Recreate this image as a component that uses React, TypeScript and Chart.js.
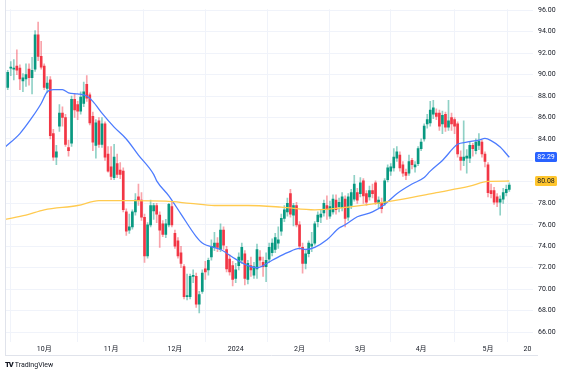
import React, { useEffect, useRef } from "react";
import { Chart, registerables } from "chart.js";

Chart.register(...registerables);

// Trading days (daily bars), plus a few future session dates the time axis runs into
const dates = [
  "2023-09-13","2023-09-14","2023-09-15","2023-09-18","2023-09-19","2023-09-20","2023-09-21","2023-09-22","2023-09-25","2023-09-26","2023-09-27","2023-09-28","2023-09-29",
  "2023-10-02","2023-10-03","2023-10-04","2023-10-05","2023-10-06","2023-10-09","2023-10-10","2023-10-11","2023-10-12","2023-10-13","2023-10-16","2023-10-17","2023-10-18","2023-10-19","2023-10-20","2023-10-23","2023-10-24","2023-10-25","2023-10-26","2023-10-27","2023-10-30","2023-10-31",
  "2023-11-01","2023-11-02","2023-11-03","2023-11-06","2023-11-07","2023-11-08","2023-11-09","2023-11-10","2023-11-13","2023-11-14","2023-11-15","2023-11-16","2023-11-17","2023-11-20","2023-11-21","2023-11-22","2023-11-24","2023-11-27","2023-11-28","2023-11-29","2023-11-30",
  "2023-12-01","2023-12-04","2023-12-05","2023-12-06","2023-12-07","2023-12-08","2023-12-11","2023-12-12","2023-12-13","2023-12-14","2023-12-15","2023-12-18","2023-12-19","2023-12-20","2023-12-21","2023-12-22","2023-12-26","2023-12-27","2023-12-28","2023-12-29",
  "2024-01-02","2024-01-03","2024-01-04","2024-01-05","2024-01-08","2024-01-09","2024-01-10","2024-01-11","2024-01-12","2024-01-16","2024-01-17","2024-01-18","2024-01-19","2024-01-22","2024-01-23","2024-01-24","2024-01-25","2024-01-26","2024-01-29","2024-01-30","2024-01-31",
  "2024-02-01","2024-02-02","2024-02-05","2024-02-06","2024-02-07","2024-02-08","2024-02-09","2024-02-12","2024-02-13","2024-02-14","2024-02-15","2024-02-16","2024-02-20","2024-02-21","2024-02-22","2024-02-23","2024-02-26","2024-02-27","2024-02-28","2024-02-29",
  "2024-03-01","2024-03-04","2024-03-05","2024-03-06","2024-03-07","2024-03-08","2024-03-11","2024-03-12","2024-03-13","2024-03-14","2024-03-15","2024-03-18","2024-03-19","2024-03-20","2024-03-21","2024-03-22","2024-03-25","2024-03-26","2024-03-27","2024-03-28",
  "2024-04-01","2024-04-02","2024-04-03","2024-04-04","2024-04-05","2024-04-08","2024-04-09","2024-04-10","2024-04-11","2024-04-12","2024-04-15","2024-04-16","2024-04-17","2024-04-18","2024-04-19","2024-04-22","2024-04-23","2024-04-24","2024-04-25","2024-04-26","2024-04-29","2024-04-30",
  "2024-05-01","2024-05-02","2024-05-03","2024-05-06","2024-05-07","2024-05-08","2024-05-09","2024-05-10",
  "2024-05-13","2024-05-14","2024-05-15","2024-05-16","2024-05-17","2024-05-20","2024-05-21",
];

const opens = [
  88.9,88.8,90.6,90.5,90.8,90.6,89.4,89.6,90.5,89.7,90.5,93.7,91.7,
  90.8,88.7,89.5,84.5,82.3,85.2,86.4,86.0,83.2,83.6,87.7,87.2,86.6,87.3,89.1,88.1,86.1,83.4,85.7,83.5,85.4,82.6,
  81.4,80.4,81.7,81.1,81.0,77.2,75.5,75.8,77.2,78.6,78.3,76.7,73.1,76.0,77.3,77.8,76.9,76.1,75.1,76.0,77.7,
  75.2,74.5,73.4,72.1,69.3,69.3,71.2,71.2,68.6,69.8,71.9,71.8,73.0,73.9,74.3,73.7,75.5,73.7,72.8,72.2,
  71.0,72.2,72.7,73.3,70.9,72.2,71.3,71.9,73.0,72.5,72.1,72.8,73.4,73.7,74.3,75.4,76.6,77.2,78.9,76.9,77.8,
  76.0,73.9,72.4,73.3,74.0,74.3,76.3,76.7,77.1,77.8,76.8,77.2,78.3,77.7,77.6,78.4,76.7,77.8,78.4,79.0,
  78.9,80.1,78.9,78.6,79.2,79.9,78.0,78.1,78.0,80.2,81.0,81.3,82.2,82.5,81.6,80.9,80.8,82.0,81.4,81.7,
  83.1,84.0,85.4,85.5,86.3,86.4,86.4,85.4,86.3,85.1,86.0,85.8,85.4,82.3,82.0,82.2,82.2,83.4,82.9,83.4,83.7,82.6,
  81.6,79.2,79.2,78.6,78.1,78.4,79.0,79.3,
];
const highs = [
  89.3,90.4,91.2,91.4,92.3,90.9,90.1,91.0,91.0,91.6,94.1,94.9,93.1,
  91.0,89.8,89.8,84.9,83.4,87.2,87.0,86.3,83.9,88.0,88.2,87.5,88.4,89.3,89.9,88.3,86.5,85.8,86.0,86.0,85.6,83.3,
  83.3,83.5,82.6,81.8,81.3,77.5,77.0,77.4,78.9,79.8,79.0,77.0,76.2,78.3,78.0,78.0,77.2,76.4,76.5,78.0,78.2,
  75.5,74.8,74.0,72.3,71.4,71.4,71.8,71.5,69.8,71.8,72.6,72.9,74.6,75.3,74.8,76.1,75.8,74.0,73.2,72.6,
  72.4,73.4,74.3,73.6,72.7,73.0,72.5,74.2,73.6,73.0,73.4,74.3,74.7,75.2,75.8,77.0,77.8,78.5,79.3,78.0,78.1,
  76.3,74.3,73.6,74.5,75.3,76.3,77.2,77.4,78.3,78.7,78.2,78.8,78.8,78.5,79.0,78.7,78.9,79.3,80.6,79.4,
  80.4,80.3,79.2,79.6,79.8,80.1,78.6,78.5,80.3,81.6,81.7,83.1,83.3,82.8,81.9,81.2,82.5,82.2,81.9,83.3,
  84.0,85.4,86.3,87.5,87.6,86.8,86.7,86.6,86.5,87.6,86.4,86.0,85.6,82.9,85.7,83.0,83.7,83.6,84.0,84.5,83.9,82.8,
  81.8,79.8,79.5,78.9,78.7,79.4,79.7,79.9,
];
const lows = [
  88.3,88.6,89.9,89.5,90.0,88.6,88.4,88.9,89.0,88.2,90.3,91.3,90.5,
  88.6,88.3,84.0,82.0,81.6,84.7,85.2,83.3,82.4,83.3,86.0,85.8,86.3,87.0,87.5,85.3,82.9,82.2,83.2,83.2,82.0,80.9,
  80.2,80.2,80.4,80.3,77.2,75.0,75.2,75.6,76.9,77.8,76.4,72.5,72.9,75.8,76.5,76.2,73.9,74.9,74.8,75.8,75.8,
  73.8,72.9,72.0,69.1,69.0,69.1,70.6,68.3,67.8,69.6,70.9,71.3,72.7,73.6,73.5,73.5,73.7,71.6,71.3,70.3,
  70.6,71.8,72.4,70.4,70.5,71.2,71.0,71.0,72.2,71.2,70.7,72.5,73.1,73.4,73.8,75.0,76.3,76.8,76.7,75.9,75.8,
  73.7,71.5,71.9,73.0,73.5,74.1,75.8,76.2,76.8,76.5,76.6,77.0,77.0,77.2,77.3,75.8,76.4,77.5,78.2,78.0,
  78.6,78.0,77.8,78.3,78.5,77.9,77.6,77.1,77.8,80.0,80.6,81.0,81.9,81.0,80.5,80.2,80.6,81.2,80.9,81.5,
  82.9,83.8,85.0,85.2,85.9,85.8,84.8,84.5,84.7,84.8,84.8,84.5,82.3,81.1,81.5,80.8,81.8,82.4,82.6,83.0,82.3,81.4,
  78.6,78.5,77.9,77.7,76.9,78.0,78.7,79.1,
];
const closes = [
  88.6,90.2,90.7,90.6,90.4,89.6,89.7,90.0,89.7,90.4,93.7,91.7,90.7,
  88.8,89.2,84.3,82.3,82.8,86.4,86.0,83.5,82.9,87.7,86.7,86.6,87.9,88.4,87.8,85.5,83.7,85.5,83.5,85.4,82.3,81.0,
  80.5,82.3,80.7,80.7,77.4,75.4,75.8,77.2,78.3,78.3,76.7,73.1,76.0,77.8,77.8,77.0,75.5,75.1,76.1,77.9,76.0,
  74.0,73.1,72.4,69.3,69.4,71.2,71.3,68.6,69.5,71.5,71.6,72.7,74.0,74.3,73.9,75.5,74.1,71.9,71.6,70.9,
  71.8,73.0,73.9,71.0,72.4,71.8,72.1,73.7,72.7,72.1,72.7,73.9,74.3,74.8,74.6,76.6,77.4,78.0,77.0,77.8,76.0,
  74.0,72.4,73.3,74.3,74.2,76.1,76.9,77.0,78.0,77.4,77.7,78.4,77.4,78.1,78.6,76.6,78.6,79.0,79.8,78.3,
  79.9,78.7,78.1,79.2,78.9,78.1,78.3,77.5,80.1,81.3,81.4,82.3,82.8,81.3,80.8,80.6,81.9,81.6,81.6,83.1,
  83.7,85.2,85.8,86.7,86.9,86.1,85.2,86.2,85.1,85.7,85.4,85.2,82.6,82.0,82.3,82.4,83.4,83.1,83.7,83.8,82.6,81.9,
  79.0,78.9,78.1,78.1,78.4,79.0,79.3,79.7,
];

// Moving averages (bar index into dates -> value)
const ma25Bars = [0,5,9,12,14,16,19,21,24,27,29,32,36,40,44,49,50,54,58,63,65,71,76,80,83,88,93,97,99,102,106,110,112,116,121,125,129,134,138,140,144,149,152,156,158,160,163,166];
const ma25Values = [83.2,84.5,86.0,87.3,88.4,88.6,88.6,88.3,88.2,88.0,87.5,86.4,85.1,84.0,82.5,80.7,80.1,78.7,77.0,74.9,74.3,73.7,72.8,72.2,72.0,72.7,73.4,73.8,73.7,73.9,74.6,75.7,76.0,76.75,77.2,77.9,78.9,79.8,80.4,81.0,82.0,83.5,83.7,83.9,84.05,83.85,83.25,82.29];
const ma200Bars = [0,7,13,24,31,42,53,61,69,80,91,102,113,120,131,142,153,159,166];
const ma200Values = [76.5,76.9,77.4,77.8,78.25,78.25,78.2,78.0,77.8,77.8,77.65,77.4,77.65,77.9,78.4,79.0,79.6,80.05,80.08];

const timeTickDates = ["2023-10-02","2023-11-01","2023-12-01","2024-01-02","2024-02-01","2024-03-01","2024-04-01","2024-05-01","2024-05-20"];
const timeTickLabels = ["10月","11月","12月","2024","2月","3月","4月","5月","20"];
const priceTicks = [66,68,70,72,74,76,78,80,82,84,86,88,90,92,94,96];

const FONT = "Roboto, 'Noto Sans CJK JP', sans-serif";
const UP = "#089981";
const DOWN = "#F23645";
const UP_WICK = "rgba(8,153,129,0.45)";
const DOWN_WICK = "rgba(242,54,69,0.45)";
const BLUE = "#4D7CFE";
const YELLOW = "#FFCA4F";

export default function App() {
  const ref = useRef<HTMLCanvasElement | null>(null);

  useEffect(() => {
    document.body.style.margin = "0";
    const canvas = ref.current;
    if (!canvas) return;

    const idx = closes.map((_, i) => i);
    const isUp = (i: number) => closes[i] >= opens[i];
    const tickPos = timeTickDates.map((d) => dates.indexOf(d));
    const lastBlue = ma25Values[ma25Values.length - 1];
    const lastYellow = ma200Values[ma200Values.length - 1];

    const overlay = {
      id: "overlay",
      afterDraw(chart: any) {
        const { ctx } = chart;
        const ys = chart.scales.y;
        ctx.save();
        ctx.strokeStyle = "#e0e3eb";
        ctx.lineWidth = 1;
        ctx.beginPath();
        ctx.moveTo(5.5, 0);
        ctx.lineTo(5.5, 356);
        ctx.moveTo(5, 355.5);
        ctx.lineTo(538, 355.5);
        ctx.stroke();
        const boxes: [number, string, string][] = [
          [lastBlue, "#2962FF", "#ffffff"],
          [lastYellow, "#FFC62E", "#131722"],
        ];
        ctx.font = `7px ${FONT}`;
        ctx.textAlign = "center";
        ctx.textBaseline = "middle";
        for (const [v, bg, fg] of boxes) {
          const y = ys.getPixelForValue(v);
          ctx.fillStyle = bg;
          ctx.beginPath();
          ctx.roundRect(535, Math.round(y) - 5, 22, 10, 1.5);
          ctx.fill();
          ctx.fillStyle = fg;
          ctx.fillText(v.toFixed(2), 546, Math.round(y) + 0.5);
        }
        ctx.restore();
      },
    };

    const chart = new Chart(canvas, {
      type: "bar",
      data: {
        datasets: [
          {
            type: "line",
            data: ma200Bars.map((b, k) => ({ x: b, y: ma200Values[k] })),
            borderColor: YELLOW,
            borderWidth: 1.3,
            pointRadius: 0,
            tension: 0.4,
            cubicInterpolationMode: "monotone",
            order: 0,
          } as any,
          {
            type: "line",
            data: ma25Bars.map((b, k) => ({ x: b, y: ma25Values[k] })),
            borderColor: BLUE,
            borderWidth: 1.3,
            pointRadius: 0,
            tension: 0.4,
            cubicInterpolationMode: "monotone",
            order: 0,
          } as any,
          {
            type: "bar",
            data: idx.map((i) => ({ x: i, y: [lows[i], highs[i]] })),
            backgroundColor: idx.map((i) => (isUp(i) ? UP_WICK : DOWN_WICK)),
            barThickness: 1,
            grouped: false,
            order: 2,
          } as any,
          {
            type: "bar",
            data: idx.map((i) => ({ x: i, y: [opens[i], closes[i]] })),
            backgroundColor: idx.map((i) => (isUp(i) ? UP : DOWN)),
            barThickness: 2,
            minBarLength: 1,
            grouped: false,
            order: 1,
          } as any,
        ],
      },
      options: {
        animation: false,
        responsive: false,
        maintainAspectRatio: false,
        layout: { padding: { left: 5, right: 0, top: 0, bottom: 0 } },
        plugins: { legend: { display: false }, tooltip: { enabled: false } },
        scales: {
          x: {
            type: "linear",
            min: 0.1,
            max: 173.8,
            bounds: "data",
            offset: false,
            afterBuildTicks: (s: any) => {
              s.ticks = tickPos.map((v) => ({ value: v }));
            },
            afterFit: (s: any) => {
              s.height = 32;
            },
            ticks: {
              autoSkip: false,
              maxRotation: 0,
              padding: 3,
              color: "#131722",
              font: { size: 7, family: FONT },
              callback: (v: any) => {
                const k = tickPos.indexOf(Number(v));
                return k >= 0 ? timeTickLabels[k] : "";
              },
            },
            grid: { color: "#f0f3fa", drawTicks: false },
            border: { display: false },
          },
          y: {
            type: "linear",
            position: "right",
            min: 65.08,
            max: 96.09,
            bounds: "data",
            afterBuildTicks: (s: any) => {
              s.ticks = priceTicks.map((v) => ({ value: v }));
            },
            afterFit: (s: any) => {
              s.width = 33;
            },
            ticks: {
              padding: 5,
              color: "#131722",
              font: { size: 7, family: FONT },
              callback: (v: any) => {
                const n = Number(v);
                if (Math.abs(n - lastBlue) < 0.8 || Math.abs(n - lastYellow) < 0.8) return "";
                return n.toFixed(2);
              },
            },
            grid: { color: "#f0f3fa", drawTicks: false },
            border: { display: false },
          },
        },
      } as any,
      plugins: [overlay],
    });

    return () => chart.destroy();
  }, []);

  return (
    <div style={{ position: "relative", width: 566, height: 374, background: "#ffffff" }}>
      <canvas ref={ref} width={566} height={374} style={{ display: "block" }} />
      <div
        style={{
          position: "absolute",
          left: 5,
          top: 360,
          fontFamily: FONT,
          fontSize: 7,
          color: "#131722",
          display: "flex",
          alignItems: "center",
          gap: 2,
          whiteSpace: "nowrap",
        }}
      >
        <span style={{ fontWeight: 900, letterSpacing: -1, fontSize: 7.5 }}>TV</span>
        <span>TradingView</span>
      </div>
    </div>
  );
}
